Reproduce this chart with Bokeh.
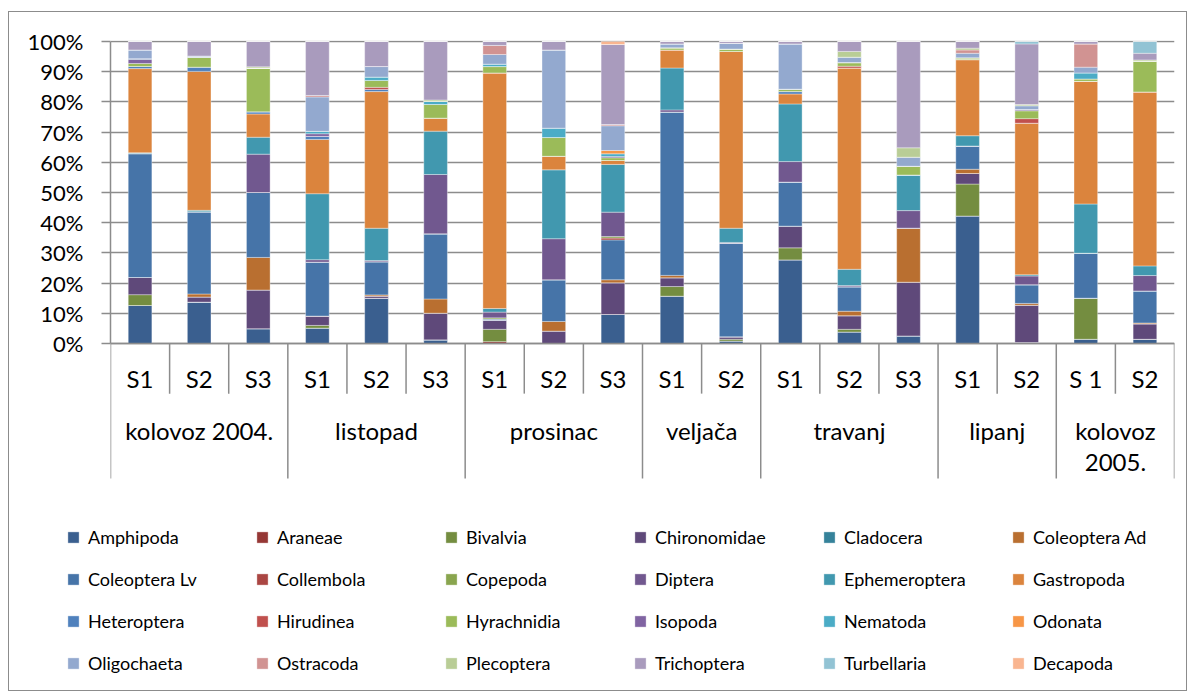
import numpy as np
from bokeh.plotting import figure
from bokeh.layouts import column
from bokeh.models import (ColumnDataSource, FixedTicker, NumeralTickFormatter,
                          Legend, LegendItem, Range1d)
from bokeh.core.properties import value
from bokeh.embed import file_html
from bokeh.resources import INLINE

# ---------------- data ----------------
groups = ["kolovoz 2004.", "listopad", "prosinac", "veljača", "travanj", "lipanj", "kolovoz 2005."]
group_sizes = [3, 3, 3, 2, 3, 2, 2]
sites = ["S1", "S2", "S3", "S1", "S2", "S3", "S1", "S2", "S3",
         "S1", "S2", "S1", "S2", "S3", "S1", "S2", "S 1", "S2"]

taxa = ["Amphipoda", "Araneae", "Bivalvia", "Chironomidae", "Cladocera", "Coleoptera Ad",
        "Coleoptera Lv", "Collembola", "Copepoda", "Diptera", "Ephemeroptera", "Gastropoda",
        "Heteroptera", "Hirudinea", "Hyrachnidia", "Isopoda", "Nematoda", "Odonata",
        "Oligochaeta", "Ostracoda", "Plecoptera", "Trichoptera", "Turbellaria", "Decapoda"]

amphipoda     = [12.6, 13.7, 4.9, 5.1, 15.0, 1.2, 0, 0, 9.6, 15.7, 0.8, 27.7, 3.8, 2.5, 42.2, 0.3, 1.4, 1.4]
araneae       = [0, 0, 0, 0, 0, 0, 0.6, 0, 0, 0, 0, 0, 0, 0, 0, 0, 0, 0]
bivalvia      = [3.6, 0, 0, 0.9, 0, 0, 4.1, 0, 0, 3.2, 0.6, 4.0, 0.9, 0, 10.6, 0, 13.6, 0]
chironomidae  = [5.7, 1.7, 12.8, 3.1, 0.7, 8.8, 3.0, 4.1, 10.5, 2.9, 0.8, 7.2, 4.5, 17.8, 3.5, 12.4, 0, 5.1]
cladocera     = [0, 0, 0, 0, 0, 0, 0, 0, 0, 0, 0, 0, 0, 0, 0, 0, 0, 0]
coleoptera_ad = [0, 1.0, 10.8, 0, 0.4, 4.7, 0, 3.2, 1.0, 0.8, 0, 0, 1.5, 17.9, 1.4, 0.6, 0, 0.3]
coleoptera_lv = [41.1, 27.2, 21.5, 17.9, 11.0, 21.5, 0.4, 13.8, 13.2, 54.2, 31.0, 14.6, 8.1, 0, 7.7, 6.2, 14.9, 10.6]
collembola    = [0, 0, 0, 0, 0, 0, 0, 0, 0.6, 0, 0, 0, 0, 0, 0, 0, 0, 0]
copepoda      = [0, 0, 0, 0, 0, 0, 0.4, 0, 0.5, 0, 0, 0, 0, 0, 0, 0, 0, 0]
diptera       = [0, 0, 12.7, 0.8, 0.4, 19.6, 1.9, 13.6, 8.1, 0.7, 0.3, 6.8, 0.4, 5.8, 0, 2.9, 0, 5.1]
ephemeroptera = [0.3, 0.5, 5.6, 21.9, 10.7, 14.3, 1.2, 22.8, 15.8, 13.9, 4.7, 19.1, 5.4, 11.8, 3.4, 0.4, 16.3, 3.2]
gastropoda    = [27.9, 46.0, 7.7, 18.0, 45.3, 4.3, 78.0, 4.5, 1.3, 6.0, 58.6, 3.3, 66.7, 0, 25.2, 50.3, 40.6, 57.6]
heteroptera   = [0.7, 1.4, 0.7, 1.0, 0.7, 0, 0, 0, 0, 0, 0, 0.8, 0, 0, 0, 0, 0, 0]
hirudinea     = [0, 0, 0, 0, 0.7, 0, 0, 0, 0, 0, 0, 0, 0.6, 0, 0, 1.5, 0, 0]
hyrachnidia   = [1.0, 3.3, 14.5, 0, 2.3, 4.5, 2.1, 6.2, 0.9, 0.7, 0.8, 0.8, 1.2, 2.9, 0.6, 2.6, 0.8, 10.2]
isopoda       = [1.4, 0, 0, 0.9, 0, 0, 0, 0, 0.4, 0, 0, 0, 0, 0, 0, 0.4, 0, 0]
nematoda      = [0.2, 0, 0, 0.8, 1.1, 1.0, 0.8, 3.1, 0.9, 0, 0, 0, 0, 0, 0, 0, 2.0, 0]
odonata       = [0, 0, 0, 0, 0, 0, 0, 0, 1.1, 0, 0, 0, 0, 0, 0, 0, 0, 0]
oligochaeta   = [2.9, 0.4, 0, 11.4, 3.5, 0, 3.2, 25.9, 8.2, 1.3, 1.9, 15.0, 1.8, 3.0, 1.5, 1.3, 1.9, 0]
ostracoda     = [0, 0, 0, 0.5, 0, 0, 3.0, 0, 0.4, 0, 0, 0, 0, 0, 1.1, 0, 7.7, 0]
plecoptera    = [0, 0, 0.4, 0, 0, 0.5, 0, 0, 0, 0, 0, 0, 1.9, 3.1, 0.6, 0.4, 0, 0.4]
trichoptera   = [2.8, 4.8, 8.4, 17.9, 8.3, 19.3, 1.3, 2.8, 26.5, 0.8, 0.6, 0.8, 3.3, 35.2, 2.2, 20.1, 0.8, 2.2]
turbellaria   = [0, 0, 0, 0, 0, 0, 0, 0, 0, 0, 0, 0, 0, 0, 0, 0.8, 0, 3.9]
decapoda      = [0, 0, 0, 0, 0, 0, 0, 0, 1.0, 0, 0, 0, 0, 0, 0, 0, 0, 0]

series = [amphipoda, araneae, bivalvia, chironomidae, cladocera, coleoptera_ad,
          coleoptera_lv, collembola, copepoda, diptera, ephemeroptera, gastropoda,
          heteroptera, hirudinea, hyrachnidia, isopoda, nematoda, odonata,
          oligochaeta, ostracoda, plecoptera, trichoptera, turbellaria, decapoda]

colors = ["#3A5F8F", "#953735", "#748D40", "#5F497A", "#35829A", "#B96F30",
          "#4674A8", "#AA4643", "#89A54E", "#71588F", "#4198AF", "#DB843D",
          "#4F81BD", "#C0504D", "#9BBB59", "#8064A2", "#4BACC6", "#F79646",
          "#93A9CF", "#D19392", "#B9CD96", "#A99BBD", "#92C3D4", "#F9B590"]

# ---------------- build ----------------
n = len(sites)
vals = np.array(series, dtype=float)
pct = vals / vals.sum(axis=0)          # 100% stacked
x = [i + 0.5 for i in range(n)]
data = {"x": x}
for name, row in zip(taxa, pct):
    data[name] = list(row)
source = ColumnDataSource(data)

FONT = "Lato"
GRID = "#8C8C8C"
W = 1177

# ---- chart ----
p = figure(width=W, height=473, x_range=Range1d(0, n), y_range=Range1d(-0.4702, 1.0033),
           output_backend="svg", toolbar_location=None, x_axis_location=None,
           min_border_left=101, min_border_right=12, min_border_top=28, min_border_bottom=0)
p.outline_line_color = None
p.background_fill_color = "white"
p.border_fill_color = "white"

ticker = FixedTicker(ticks=[i / 10 for i in range(11)], minor_ticks=[])
yax = p.yaxis[0]
yax.ticker = ticker
yax.bounds = (0, 1)
yax.formatter = NumeralTickFormatter(format="0%")
yax.major_tick_out = 9
yax.major_tick_in = 0
yax.minor_tick_out = 0
yax.minor_tick_in = 0
yax.axis_line_color = GRID
yax.axis_line_width = 1.5
yax.major_tick_line_color = GRID
yax.major_tick_line_width = 1.5
yax.major_label_text_font = FONT
yax.major_label_text_font_size = "22px"
yax.major_label_text_color = "black"
yax.major_label_standoff = 18

for g in p.grid:
    if g.dimension == 0:
        g.visible = False
    else:
        g.ticker = ticker
        g.bounds = (0, 1)
        g.grid_line_color = GRID
        g.grid_line_width = 1.5

renderers = p.vbar_stack(taxa, x="x", width=0.4, source=source, color=colors,
                         line_color="white", line_width=0.6, line_alpha=0.6)

# category table under the axis
edges = np.cumsum([0] + group_sizes)
inner_x = [i for i in range(n + 1) if i not in set(edges.tolist())]
p.segment(x0=inner_x, y0=[0] * len(inner_x), x1=inner_x, y1=[-0.166] * len(inner_x),
          line_color=GRID, line_width=1.5)
p.segment(x0=list(edges), y0=[0] * len(edges), x1=list(edges), y1=[-0.447] * len(edges),
          line_color=GRID, line_width=1.5)
p.segment(x0=[0], y0=[0], x1=[n], y1=[0], line_color=GRID, line_width=1.5)

p.text(x=x, y=[-0.116] * n, text=sites, text_font=value(FONT), text_font_size="24px",
       text_align="center", text_baseline="middle", text_color="black")

gx, gy, gt = [], [], []
for gname, start, size in zip(groups, edges[:-1], group_sizes):
    lines = gname.split(" ") if size < 3 and " " in gname else [gname]
    for k, ln in enumerate(lines):
        gx.append(start + size / 2)
        gy.append(-0.288 - 0.106 * k)
        gt.append(ln)
p.text(x=gx, y=gy, text=gt, text_font=value(FONT), text_font_size="24px",
       text_align="center", text_baseline="middle", text_color="black")

# ---- legend panel (hidden swatch renderers carry the series colours) ----
lf = figure(width=W, height=205, x_range=Range1d(0, 1), y_range=Range1d(0, 1),
            output_backend="svg", toolbar_location=None,
            x_axis_location=None, y_axis_location=None,
            min_border_left=0, min_border_right=0, min_border_top=0, min_border_bottom=0)
for fig in (p, lf):
    try:
        fig.frame_align = False
    except Exception:
        pass
lf.outline_line_color = None
lf.grid.visible = False
lf.background_fill_color = "white"
lf.border_fill_color = "white"
swatches = []
for c in colors:
    r = lf.vbar(x=[0.5], top=[0.0], width=0.0, fill_color=c, line_color="white",
                line_width=0.6, line_alpha=0.6)
    r.visible = False
    swatches.append(r)
items = [LegendItem(label=name, renderers=[r]) for name, r in zip(taxa, swatches)]
legend = Legend(items=items, orientation="horizontal", ncols=6, location=(57, 16),
                glyph_width=14, glyph_height=14, label_standoff=8, label_width=148,
                label_height=23, spacing=19, padding=0, margin=0,
                label_text_font=FONT, label_text_font_size="18px", label_text_color="black",
                border_line_color=None, background_fill_alpha=0,
                inactive_fill_alpha=0)
lf.add_layout(legend, "center")

page = column(p, lf, spacing=0,
              styles={"border": "1px solid #8C8C8C", "margin-left": "8px", "margin-top": "11px"})

open("out.html", "w").write(file_html(page, INLINE))
